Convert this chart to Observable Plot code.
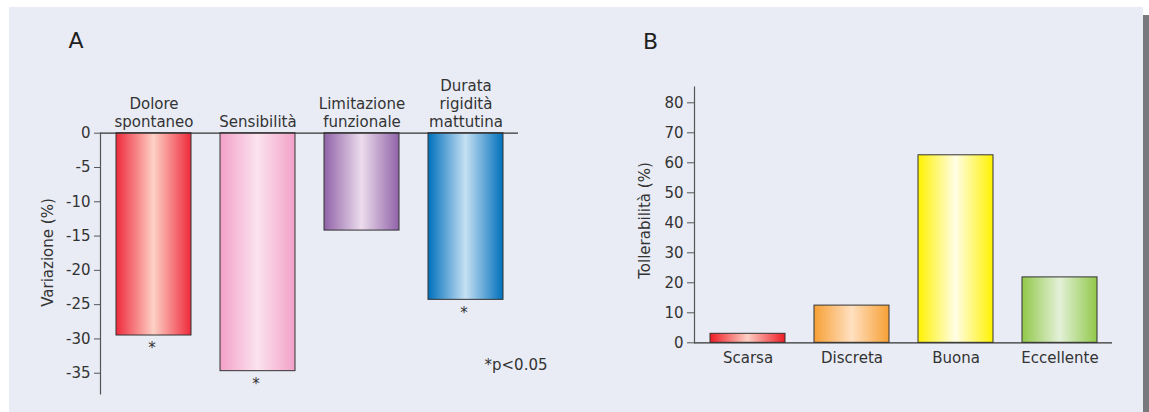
<!DOCTYPE html>
<html>
<head>
<meta charset="utf-8">
<script src="https://cdn.jsdelivr.net/npm/d3@7"></script>
<script src="https://cdn.jsdelivr.net/npm/@observablehq/plot@0.6"></script>
<style>
  body { margin: 0; background: #fff; }
  #root { position: relative; width: 1149px; height: 412px; overflow: hidden; font-family: "DejaVu Sans", Verdana, sans-serif; }
  #panel { position: absolute; left: 9px; top: 7px; width: 1134px; height: 405px; background: #e9ecf5; }
  #edge { position: absolute; left: 1143px; top: 15px; width: 6px; height: 397px; background: #78797d; }
  .chart { position: absolute; top: 0; }
  .chart svg { overflow: visible; }
</style>
</head>
<body>
<div id="root">
  <div id="panel"></div>
  <div id="edge"></div>
  <div id="chartA" class="chart" style="left:0px"></div>
  <div id="chartB" class="chart" style="left:560px"></div>
</div>
<script>
// ---- Panel A data ----
const letterA = "A";
const categoriesA = ["Dolore\nspontaneo", "Sensibilità", "Limitazione\nfunzionale", "Durata\nrigidità\nmattutina"];
const valuesA = [-29.5, -34.7, -14.2, -24.3];
const significanceA = ["*", "*", "", "*"];
const gradientsA = [["#ee2a3b", "#fdd0c5"], ["#f2a0c8", "#fbe3ee"], ["#9062a8", "#ecdcec"], ["#0070bc", "#c6e0f3"]];
const ticksA = [0, -5, -10, -15, -20, -25, -30, -35];
const yLabelA = "Variazione (%)";
const footnoteA = "*p<0.05";

// ---- Panel B data ----
const letterB = "B";
const categoriesB = ["Scarsa", "Discreta", "Buona", "Eccellente"];
const valuesB = [3.0, 12.4, 62.5, 21.8];
const gradientsB = [["#ee1c25", "#fdcfc4"], ["#f7a035", "#ffe0c0"], ["#fff200", "#fffde6"], ["#92c84a", "#e3f1d8"]];
const ticksB = [0, 10, 20, 30, 40, 50, 60, 70, 80];
const yLabelB = "Tollerabilità (%)";

const FONT = "DejaVu Sans, Verdana, sans-serif";
const TEXT = "#333";

function addGradients(svg, prefix, grads) {
  const defs = d3.select(svg).insert("defs", ":first-child");
  grads.forEach(([edge, mid], i) => {
    const g = defs.append("linearGradient").attr("id", prefix + i)
      .attr("x1", "0").attr("x2", "1").attr("y1", "0").attr("y2", "0");
    g.append("stop").attr("offset", "0").attr("stop-color", edge);
    g.append("stop").attr("offset", "0.5").attr("stop-color", mid);
    g.append("stop").attr("offset", "1").attr("stop-color", edge);
  });
}

const dataA = categoriesA.map((c, i) => ({cat: c, v: valuesA[i], sig: significanceA[i], g: `url(#gA${i})`}));
const dataB = categoriesB.map((c, i) => ({cat: c, v: valuesB[i], g: `url(#gB${i})`}));

const plotA = Plot.plot({
  width: 560, height: 412,
  marginLeft: 100, marginRight: 42, marginTop: 132.7, marginBottom: 18.7,
  style: {background: "transparent", fontFamily: FONT, fontSize: "15px", color: TEXT, overflow: "visible"},
  x: {domain: categoriesA, range: [85.3, 533.6], padding: 0.2835, axis: null},
  y: {domain: [-38, 0], range: [393.3, 132.7]},
  color: {type: "identity"},
  marks: [
    Plot.barY(dataA, {x: "cat", y: "v", fill: "g", stroke: "#333", strokeWidth: 1}),
    Plot.ruleY([0], {stroke: "#333", strokeWidth: 1.2}),
    Plot.frame({anchor: "left", stroke: "#555", strokeWidth: 1.2}),
    Plot.axisY({ticks: ticksA, tickSize: 6, tickPadding: 4, label: null, tickFormat: d => String(d), fontSize: 15, stroke: "#555"}),
    Plot.text(dataA, {x: "cat", y: 0, text: "cat", lineAnchor: "bottom", dy: -6, lineHeight: 1.2, fontSize: 15, fill: TEXT}),
    Plot.text(dataA, {x: "cat", y: "v", text: "sig", lineAnchor: "top", dy: 7, dx: -2, fontSize: 15, fill: TEXT}),
    Plot.text([footnoteA], {frameAnchor: "bottom-right", dx: 29, dy: -24, textAnchor: "end", lineAnchor: "bottom", fontSize: 15, fill: TEXT}),
    Plot.text([yLabelA], {frameAnchor: "left", rotate: -90, dx: -52, dy: -11, textAnchor: "middle", fontSize: 15, fill: TEXT}),
    Plot.text([letterA], {frameAnchor: "top-left", dx: -32, dy: -101.3, textAnchor: "start", lineAnchor: "top", fontSize: 22, fill: "#222"})
  ]
});
addGradients(plotA, "gA", gradientsA);
document.getElementById("chartA").appendChild(plotA);

const plotB = Plot.plot({
  width: 589, height: 412,
  marginLeft: 134, marginRight: 37, marginTop: 86.7, marginBottom: 69.7,
  style: {background: "transparent", fontFamily: FONT, fontSize: "15px", color: TEXT, overflow: "visible"},
  x: {domain: categoriesB, range: [120.8, 566.8], padding: 0.276},
  y: {domain: [0, 85.2], range: [342.3, 86.7]},
  color: {type: "identity"},
  marks: [
    Plot.barY(dataB, {x: "cat", y: "v", fill: "g", stroke: "#333", strokeWidth: 1}),
    Plot.ruleY([0], {stroke: "#333", strokeWidth: 1.2}),
    Plot.frame({anchor: "left", stroke: "#555", strokeWidth: 1.2}),
    Plot.axisY({ticks: ticksB, tickSize: 7, tickPadding: 4, label: null, tickFormat: d => String(d), fontSize: 15, stroke: "#555"}),
    Plot.axisX({tickSize: 0, tickPadding: 10, label: null, fontSize: 15}),
    Plot.text([yLabelB], {frameAnchor: "left", rotate: -90, dx: -49.4, dy: 5.5, textAnchor: "middle", fontSize: 15, fill: TEXT}),
    Plot.text([letterB], {frameAnchor: "top-left", dx: -51.6, dy: -54.3, textAnchor: "start", lineAnchor: "top", fontSize: 22, fill: "#222"})
  ]
});
addGradients(plotB, "gB", gradientsB);
document.getElementById("chartB").appendChild(plotB);
</script>
</body>
</html>
